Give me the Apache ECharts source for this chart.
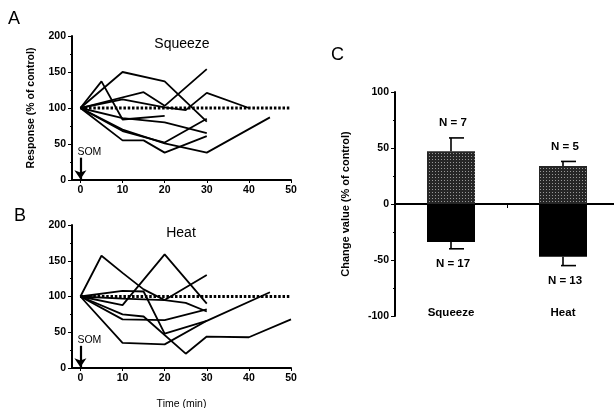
<!DOCTYPE html>
<html><head><meta charset="utf-8">
<script src="https://cdn.jsdelivr.net/npm/echarts@6/dist/echarts.min.js"></script>
<style>html,body{margin:0;padding:0;background:#fff}#c{width:614px;height:408px}</style>
</head><body><div id="c"></div>
<script>
// ---- data ----
const timeTicks = [0, 10, 20, 30, 40, 50];
const responseTicks = [0, 50, 100, 150, 200];
const controlLine = [[0, 100], [50, 100]];
const somArrow = [31, 1];

const sqz1 = [[0,100],[5,137],[10,84],[20,89]];
const sqz2 = [[0,100],[10,150],[20,137],[30,81]];
const sqz3 = [[0,100],[15,122],[20,103],[30,154]];
const sqz4 = [[0,100],[10,112],[20,101],[25,97],[30,121],[40,100]];
const sqz5 = [[0,100],[10,55],[15,55],[20,38],[30,61]];
const sqz6 = [[0,100],[10,70],[20,51],[30,38],[45,87]];
const sqz7 = [[0,100],[10,68],[20,52],[30,85]];
const sqz8 = [[0,100],[10,86],[20,80],[30,65]];

const heat1 = [[0,100],[5,157],[10,133],[15,110],[20,95],[25,91],[30,79]];
const heat2 = [[0,100],[10,88],[20,159],[30,90]];
const heat3 = [[0,100],[10,97],[20,95],[30,130]];
const heat4 = [[0,100],[10,108],[15,107],[20,48],[30,66]];
const heat5 = [[0,100],[10,68],[20,67],[30,82]];
const heat6 = [[0,100],[10,35],[20,33],[30,66],[45,106]];
const heat7 = [[0,100],[10,75],[15,72],[25,20],[30,44],[40,43],[50,68]];

const barCategories = ['Squeeze', 'Heat'];
const increaseMean = [47, 34];
const increaseSEM = [12, 4];
const increaseN = [7, 5];
const decreaseMean = [-34, -47];
const decreaseSEM = [6, 8];
const decreaseN = [17, 13];

// ---- chart ----
const FONT = 'Arial, "Liberation Sans", sans-serif';
const chart = echarts.init(document.getElementById('c'), null, {renderer: 'canvas'});

function traceSeries(data, idx) {
  return {type: 'line', xAxisIndex: idx, yAxisIndex: idx, data: data, symbol: 'none',
    lineStyle: {color: '#000', width: 1.8}, silent: true, z: 3};
}
function refSeries(idx) {
  return {type: 'line', xAxisIndex: idx, yAxisIndex: idx, data: controlLine, symbol: 'none', silent: true, z: 2,
    lineStyle: {color: '#000', width: 2.8, type: [2.5, 1.8]},
    markLine: {silent: true, symbol: ['none', 'arrow'], symbolSize: 9, animation: false,
      lineStyle: {color: '#000', width: 2.2, type: 'solid'},
      label: {show: true, position: 'start', formatter: 'SOM', color: '#000', fontFamily: FONT, fontSize: 10.5, distance: 0, align: 'left', padding: [0,0,0,-3]},
      data: [[{coord: [0, somArrow[0]]}, {coord: [0, somArrow[1]]}]]}
  };
}
function timeAxis(gi, showName) {
  return {type: 'value', gridIndex: gi, min: -2, max: 50,
    axisLine: {onZero: false, lineStyle: {color: '#000', width: 2}},
    axisTick: {show: true, length: 3, customValues: timeTicks, lineStyle: {color: '#000'}},
    axisLabel: {customValues: timeTicks, color: '#000', fontFamily: FONT, fontSize: 10.5, fontWeight: 'bold', margin: 5},
    splitLine: {show: false},
    name: showName ? 'Time (min)' : '', nameLocation: 'middle', nameGap: 31,
    nameTextStyle: {color: '#000', fontFamily: FONT, fontSize: 10.5}};
}
function respAxis(gi, showName) {
  return {type: 'value', gridIndex: gi, min: 0, max: 200, interval: 50,
    axisLine: {show: true, onZero: false, lineStyle: {color: '#000', width: 2}},
    axisTick: {show: true, length: 4, lineStyle: {color: '#000'}},
    minorTick: {show: true, splitNumber: 2, length: 2, lineStyle: {color: '#000'}},
    axisLabel: {color: '#000', fontFamily: FONT, fontSize: 10.5, fontWeight: 'bold', margin: 6},
    splitLine: {show: false},
    name: showName ? 'Response (% of control)' : '', nameLocation: 'middle', nameGap: 35,
    nameTextStyle: {color: '#000', fontFamily: FONT, fontSize: 10.5, fontWeight: 'bold'}};
}

function errRender(params, api) {
  const cat = api.value(0), mean = api.value(1), err = api.value(2), n = api.value(3);
  const sign = mean >= 0 ? 1 : -1;
  const base = api.coord([cat, mean]);
  const end = api.coord([cat, mean + sign * err]);
  const dir = sign > 0 ? -1 : 1;
  const black = {stroke: '#000', lineWidth: 1.6};
  return {type: 'group', children: [
    {type: 'line', shape: {x1: base[0], y1: base[1], x2: end[0], y2: end[1]}, style: black},
    {type: 'line', shape: {x1: end[0] - 2, y1: end[1], x2: end[0] + 13, y2: end[1]}, style: black},
    {type: 'text', x: end[0] + 2, y: end[1] + dir * 15,
      style: {text: 'N = ' + n, fill: '#000', font: 'bold 11.5px ' + FONT, align: 'center', verticalAlign: 'middle'}}
  ]};
}

const titleStyle = {color: '#000', fontFamily: FONT, fontWeight: 'normal'};
const option = {
  animation: false,
  backgroundColor: '#fff',
  title: [
    {text: 'A', left: 8, top: 10, padding: 0, textStyle: Object.assign({fontSize: 18}, titleStyle)},
    {text: 'B', left: 14, top: 207, padding: 0, textStyle: Object.assign({fontSize: 18}, titleStyle)},
    {text: 'C', left: 331, top: 46, padding: 0, textStyle: Object.assign({fontSize: 18}, titleStyle)},
    {text: 'Squeeze', left: 182, top: 37, padding: 0, textAlign: 'center', textStyle: Object.assign({fontSize: 14}, titleStyle)},
    {text: 'Heat', left: 181, top: 226, padding: 0, textAlign: 'center', textStyle: Object.assign({fontSize: 14}, titleStyle)}
  ],
  grid: [
    {left: 72, top: 36, width: 219, height: 144, outerBoundsMode: 'none'},
    {left: 72, top: 225, width: 219, height: 143, outerBoundsMode: 'none'},
    {left: 395, top: 92, width: 224, height: 224, outerBoundsMode: 'none'}
  ],
  xAxis: [
    timeAxis(0, false),
    timeAxis(1, true),
    {type: 'category', gridIndex: 2, data: barCategories,
      axisLine: {onZero: true, lineStyle: {color: '#000', width: 2}},
      axisTick: {show: true, length: 4, lineStyle: {color: '#000'}},
      axisLabel: {show: false}},
    {type: 'category', gridIndex: 2, data: barCategories, position: 'bottom',
      axisLine: {show: false}, axisTick: {show: false},
      axisLabel: {color: '#000', fontFamily: FONT, fontSize: 11.5, fontWeight: 'bold', margin: -9}}
  ],
  yAxis: [
    respAxis(0, true),
    respAxis(1, false),
    {type: 'value', gridIndex: 2, min: -100, max: 100, interval: 50,
      axisLine: {show: true, onZero: false, lineStyle: {color: '#000', width: 2}},
      axisTick: {show: true, length: 4, lineStyle: {color: '#000'}},
      minorTick: {show: true, splitNumber: 2, length: 2, lineStyle: {color: '#000'}},
      axisLabel: {color: '#000', fontFamily: FONT, fontSize: 10.5, fontWeight: 'bold', margin: 6},
      splitLine: {show: false},
      name: 'Change value (% of control)', nameLocation: 'middle', nameGap: 44,
      nameTextStyle: {color: '#000', fontFamily: FONT, fontSize: 11, fontWeight: 'bold'}}
  ],
  series: [
    refSeries(0),
    traceSeries(sqz1, 0), traceSeries(sqz2, 0), traceSeries(sqz3, 0), traceSeries(sqz4, 0),
    traceSeries(sqz5, 0), traceSeries(sqz6, 0), traceSeries(sqz7, 0), traceSeries(sqz8, 0),
    refSeries(1),
    traceSeries(heat1, 1), traceSeries(heat2, 1), traceSeries(heat3, 1), traceSeries(heat4, 1),
    traceSeries(heat5, 1), traceSeries(heat6, 1), traceSeries(heat7, 1),
    {type: 'bar', xAxisIndex: 2, yAxisIndex: 2, data: increaseMean, barWidth: 48, barGap: '-100%', silent: true,
      itemStyle: {color: '#262626',
        decal: {symbol: 'rect', symbolSize: 1, color: 'rgba(200,200,200,0.7)', dashArrayX: [1, 2], dashArrayY: [1, 2]}}},
    {type: 'bar', xAxisIndex: 2, yAxisIndex: 2, data: decreaseMean, barWidth: 48, barGap: '-100%', silent: true,
      itemStyle: {color: '#000'}},
    {type: 'custom', xAxisIndex: 2, yAxisIndex: 2, renderItem: errRender, silent: true, z: 5,
      data: barCategories.map((c, i) => [i, increaseMean[i], increaseSEM[i], increaseN[i]])
        .concat(barCategories.map((c, i) => [i, decreaseMean[i], decreaseSEM[i], decreaseN[i]]))}
  ]
};
chart.setOption(option);
</script></body></html>
